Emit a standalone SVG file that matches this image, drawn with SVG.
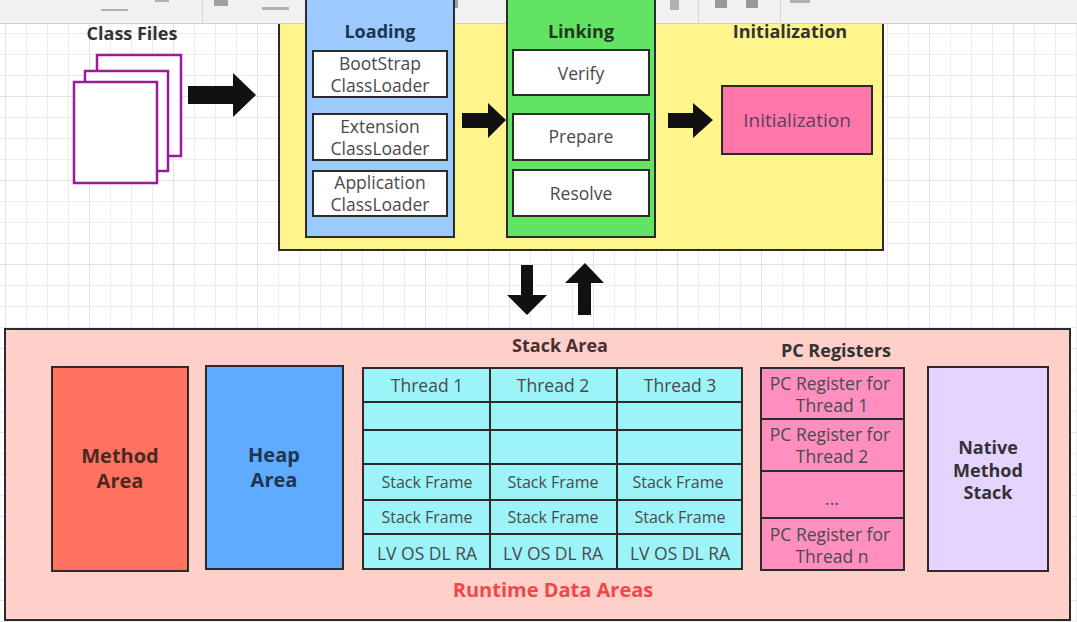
<svg xmlns="http://www.w3.org/2000/svg" width="1077" height="622" viewBox="0 0 1077 622">
<defs>
<pattern id="grid" patternUnits="userSpaceOnUse" x="5" y="12" width="84" height="84">
<path d="M0 0.5H84M0 21.5H84M0 42.5H84M0 63.5H84M0.5 0V84M21.5 0V84M42.5 0V84M63.5 0V84" stroke="#ececec" stroke-width="1" fill="none"/>
<path d="M0 0.5H84M0.5 0V84" stroke="#e2e2e2" stroke-width="1" fill="none"/>
</pattern>
<style>
.box{stroke:#2b2b2b;stroke-width:2}
.lbl{font-family:"Open Sans","Noto Sans",sans-serif;font-size:17.5px;fill:#4a4a4a;text-anchor:middle}
.sm{font-size:16px}
.ttl{font-family:"Open Sans","Noto Sans",sans-serif;font-size:18px;font-weight:bold;fill:#333;text-anchor:middle}
.big{font-size:20px}
.arrow{fill:#111}
.page{fill:#fff;stroke:#9a1a9a;stroke-width:2.5}
</style>
</defs>
<rect width="1077" height="622" fill="#fff"/>
<rect width="1077" height="622" fill="url(#grid)"/>

<g id="loading-stage-container">
<rect class="box" x="279" y="-5" width="604" height="255" fill="#fff58c"/>
</g>

<g id="toolbar">
<rect x="0" y="0" width="1077" height="23" fill="#f1f1f1"/>
<line x1="0" y1="23.5" x2="1077" y2="23.5" stroke="#cfcfcf"/>
<g stroke="#d6d6d6"><line x1="202.5" y1="0" x2="202.5" y2="22"/><line x1="415.5" y1="0" x2="415.5" y2="22"/><line x1="617.5" y1="0" x2="617.5" y2="22"/><line x1="698.5" y1="0" x2="698.5" y2="22"/><line x1="780.5" y1="0" x2="780.5" y2="22"/></g>
<g fill="#b0b0b0"><rect x="101" y="9" width="27" height="2"/><rect x="155" y="0" width="14" height="2"/><rect x="262" y="7" width="27" height="3"/><rect x="329" y="3" width="14" height="2"/><rect x="368" y="1" width="16" height="3"/><rect x="635" y="0" width="9" height="9"/><rect x="670" y="0" width="9" height="10"/><rect x="715" y="0" width="12" height="8" fill="#999"/><rect x="746" y="0" width="12" height="8" fill="#999"/><rect x="790" y="0" width="20" height="3"/></g>
<g fill="#a0a0a0"><rect x="214" y="0" width="14" height="6"/><rect x="453" y="0" width="5" height="8"/></g>
</g>

<g id="class-files">
<text class="ttl" x="132" y="40">Class Files</text>
<rect class="page" x="97" y="55" width="84" height="101"/>
<rect class="page" x="85" y="71" width="83" height="100"/>
<rect class="page" x="74" y="82" width="83" height="101"/>
</g>

<g id="loading">
<rect class="box" x="306" y="-5" width="148" height="242" fill="#9dcbff"/>
<text class="ttl" x="380" y="38" style="fill:#1e3550">Loading</text>
<rect class="box" x="313" y="51" width="134" height="46" fill="#fff"/>
<text class="lbl" x="380" y="70">BootStrap</text><text class="lbl" x="380" y="92">ClassLoader</text>
<rect class="box" x="313" y="114" width="134" height="46" fill="#fff"/>
<text class="lbl" x="380" y="133">Extension</text><text class="lbl" x="380" y="155">ClassLoader</text>
<rect class="box" x="313" y="171" width="134" height="45" fill="#fff"/>
<text class="lbl" x="380" y="189">Application</text><text class="lbl" x="380" y="211">ClassLoader</text>
</g>

<g id="linking">
<rect class="box" x="507" y="-5" width="148" height="242" fill="#63e363"/>
<text class="ttl" x="581" y="38" style="fill:#1f3a1f">Linking</text>
<rect class="box" x="513" y="50" width="136" height="45" fill="#fff"/>
<text class="lbl" x="581" y="80">Verify</text>
<rect class="box" x="513" y="114" width="136" height="46" fill="#fff"/>
<text class="lbl" x="581" y="143">Prepare</text>
<rect class="box" x="513" y="170" width="136" height="46" fill="#fff"/>
<text class="lbl" x="581" y="200">Resolve</text>
</g>

<g id="initialization">
<text class="ttl" x="790" y="38">Initialization</text>
<rect class="box" x="722" y="86" width="150" height="68" fill="#ff77a8"/>
<text class="lbl" x="797" y="127" style="fill:#5a4060;font-size:19px">Initialization</text>
</g>

<g id="runtime-data-areas">
<rect class="box" x="5" y="329" width="1065" height="291" fill="#ffcfca"/>
<text class="ttl" x="553" y="597" style="fill:#f04848;font-size:20px">Runtime Data Areas</text>
</g>

<g id="method-area">
<rect class="box" x="52" y="367" width="136" height="204" fill="#ff725f"/>
<text class="ttl big" x="120" y="463" style="fill:#4a2a22">Method</text>
<text class="ttl big" x="120" y="488" style="fill:#4a2a22">Area</text>
</g>

<g id="heap-area">
<rect class="box" x="206" y="366" width="137" height="203" fill="#5eabff"/>
<text class="ttl big" x="274" y="462" style="fill:#1f3550">Heap</text>
<text class="ttl big" x="274" y="487" style="fill:#1f3550">Area</text>
</g>

<g id="stack-area">
<text class="ttl" x="560" y="352" style="fill:#4a3030">Stack Area</text>
<rect class="box" x="363" y="368" width="379" height="201" fill="#9cf3f8"/>
<g class="box" fill="none">
<line x1="490" y1="368" x2="490" y2="569"/><line x1="617" y1="368" x2="617" y2="569"/>
<line x1="363" y1="402" x2="742" y2="402"/><line x1="363" y1="430" x2="742" y2="430"/>
<line x1="363" y1="464" x2="742" y2="464"/><line x1="363" y1="500" x2="742" y2="500"/>
<line x1="363" y1="534" x2="742" y2="534"/>
</g>
<text class="lbl" x="427" y="392">Thread 1</text><text class="lbl" x="553" y="392">Thread 2</text><text class="lbl" x="680" y="392">Thread 3</text>
<text class="lbl sm" x="427" y="488">Stack Frame</text><text class="lbl sm" x="553" y="488">Stack Frame</text><text class="lbl sm" x="678" y="488">Stack Frame</text>
<text class="lbl sm" x="427" y="523">Stack Frame</text><text class="lbl sm" x="553" y="523">Stack Frame</text><text class="lbl sm" x="680" y="523">Stack Frame</text>
<text class="lbl" x="427" y="560">LV OS DL RA</text><text class="lbl" x="553" y="560">LV OS DL RA</text><text class="lbl" x="680" y="560">LV OS DL RA</text>
</g>

<g id="pc-registers">
<text class="ttl" x="836" y="357">PC Registers</text>
<rect class="box" x="761" y="368" width="143" height="202" fill="#ff8fbf"/>
<g class="box" fill="none"><line x1="761" y1="419" x2="904" y2="419"/><line x1="761" y1="471" x2="904" y2="471"/><line x1="761" y1="518" x2="904" y2="518"/></g>
<text class="lbl" x="830" y="390">PC Register for</text><text class="lbl" x="832" y="412">Thread 1</text>
<text class="lbl" x="830" y="441">PC Register for</text><text class="lbl" x="832" y="463">Thread 2</text>
<text class="lbl" x="832" y="505">...</text>
<text class="lbl" x="830" y="541">PC Register for</text><text class="lbl" x="832" y="563">Thread n</text>
</g>

<g id="native-method-stack">
<rect class="box" x="928" y="367" width="120" height="204" fill="#e4d4ff"/>
<text class="ttl" x="988" y="454">Native</text>
<text class="ttl" x="988" y="477">Method</text>
<text class="ttl" x="988" y="499">Stack</text>
</g>

<g id="connectors">
<path class="arrow" d="M188 86H233V73L256 95L233 117V104H188Z"/>
<path class="arrow" d="M462 113H488V103L506 120L488 138V128H462Z"/>
<path class="arrow" d="M668 113H693V103L713 120L693 138V128H668Z"/>
<path class="arrow" d="M521 265H533V295H547L527 315L507 295H521Z"/>
<path class="arrow" d="M578 315V283H565L585 263L604 283H591V315Z"/>
</g>
</svg>
